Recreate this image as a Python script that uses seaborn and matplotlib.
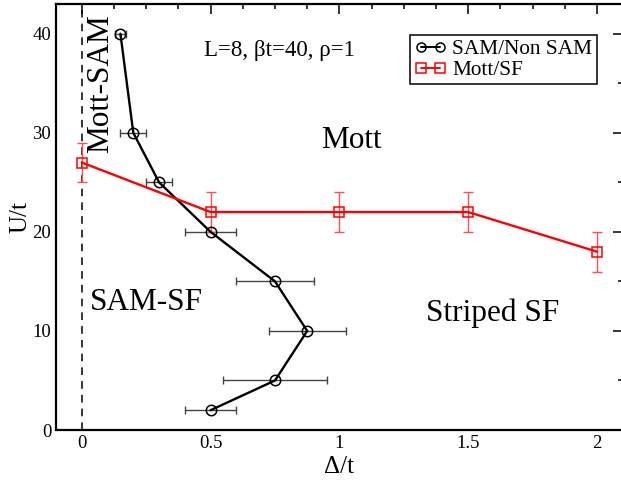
import matplotlib
matplotlib.use("Agg")
import matplotlib.pyplot as plt
from matplotlib.ticker import MultipleLocator, FixedFormatter, FixedLocator
import seaborn as sns
import pandas as pd

# SAM / non-SAM boundary
sam_delta = [0.15, 0.2, 0.3, 0.5, 0.75, 0.875, 0.75, 0.5]
sam_U = [40, 30, 25, 20, 15, 10, 5, 2]
sam_xerr = [0.02, 0.05, 0.05, 0.1, 0.15, 0.15, 0.2, 0.1]

# Mott / superfluid boundary
mott_delta = [0.0, 0.5, 1.0, 1.5, 2.0]
mott_U = [27, 22, 22, 22, 18]
mott_yerr = [2, 2, 2, 2, 2]

x_ticks = [0, 0.5, 1, 1.5, 2]
x_tick_labels = ["0", "0.5", "1", "1.5", "2"]

sns.set_theme(style="white")
plt.rcParams["font.family"] = ["Liberation Serif", "DejaVu Serif"]
plt.rcParams["text.color"] = "black"
plt.rcParams["axes.labelcolor"] = "black"

fig = plt.figure(figsize=(6.21, 4.83), dpi=100)
ax = fig.add_axes([0.0902, 0.1097, 0.9127, 0.8820])

sam_df = pd.DataFrame({"delta": sam_delta, "U": sam_U})
mott_df = pd.DataFrame({"delta": mott_delta, "U": mott_U})

# error bars first so markers sit on top
ax.errorbar(sam_delta, sam_U, xerr=sam_xerr, fmt="none", ecolor="#444444",
            elinewidth=1.0, capsize=2.8, capthick=1.0, zorder=2)
ax.errorbar(mott_delta, mott_U, yerr=mott_yerr, fmt="none", ecolor="#ff5050",
            elinewidth=1.0, capsize=3.6, capthick=1.0, zorder=2)

sns.lineplot(data=sam_df, x="delta", y="U", sort=False, estimator=None,
             color="black", lw=1.7, marker="o", markersize=7.5,
             markerfacecolor="none", markeredgecolor="black", markeredgewidth=1.1,
             label="SAM/Non SAM", ax=ax, zorder=3)
sns.lineplot(data=mott_df, x="delta", y="U", sort=False, estimator=None,
             color="red", lw=1.7, marker="s", markersize=6.5,
             markerfacecolor="none", markeredgecolor="red", markeredgewidth=1.1,
             label="Mott/SF", ax=ax, zorder=3)

ax.axvline(0, color="black", lw=1.1, ls=(0, (5, 4)), zorder=1)

ax.set_xlim(-0.1, 2.1)
ax.set_ylim(0, 43)
ax.xaxis.set_major_locator(FixedLocator(x_ticks))
ax.xaxis.set_major_formatter(FixedFormatter(x_tick_labels))
ax.xaxis.set_minor_locator(MultipleLocator(0.125))
ax.yaxis.set_major_locator(MultipleLocator(10))
ax.yaxis.set_minor_locator(MultipleLocator(5))
ax.tick_params(which="both", direction="in", top=True, right=True,
               labelsize=13.5, colors="black")
ax.tick_params(which="major", length=7, width=1.1)
ax.tick_params(which="minor", length=3.5, width=1.1)
for s in ax.spines.values():
    s.set_linewidth(1.6)
    s.set_color("black")

ax.set_xlabel("Δ/t", fontsize=18, labelpad=3)
ax.set_ylabel("U/t", fontsize=18, labelpad=1)

ax.text(0.767, 38.3, "L=8, βt=40, ρ=1", fontsize=16.5, ha="center", va="center")
ax.text(1.047, 29.2, "Mott", fontsize=22.5, ha="center", va="center")
ax.text(0.074, 35.0, "Mott-SAM", fontsize=22.5, ha="center", va="center", rotation=90)
ax.text(0.252, 12.9, "SAM-SF", fontsize=22.5, ha="center", va="center")
ax.text(1.593, 11.8, "Striped SF", fontsize=22.5, ha="center", va="center")

leg = ax.legend(loc="upper right", bbox_to_anchor=(0.954, 0.927), fontsize=15.3,
                numpoints=2, handlelength=1.5, handletextpad=0.3, borderpad=0.2,
                labelspacing=0.05, frameon=True, fancybox=False, framealpha=1,
                edgecolor="black", borderaxespad=0)
leg.get_frame().set_linewidth(1.1)
for h in leg.legend_handles:
    h.set_markersize(6.5)
    h.set_linewidth(1.4)

fig.savefig("out.png", dpi=100)
